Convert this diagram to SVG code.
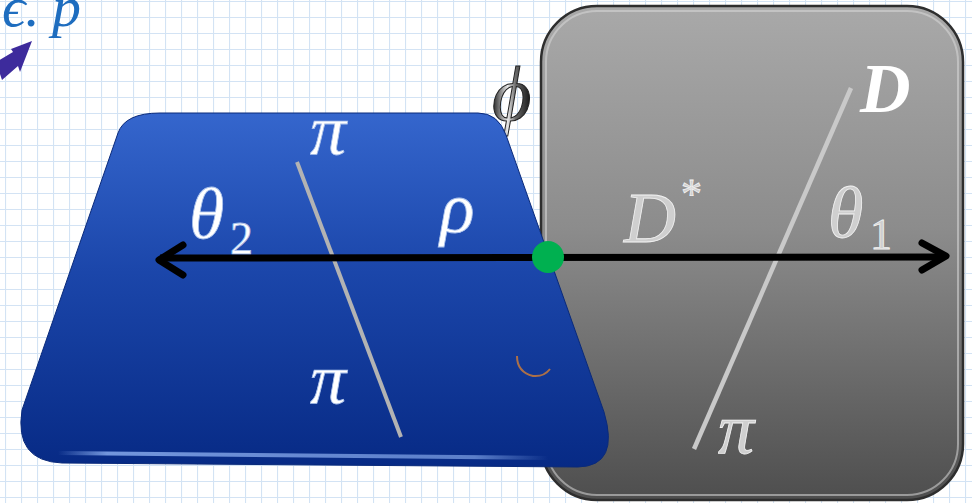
<svg xmlns="http://www.w3.org/2000/svg" width="972" height="503" viewBox="0 0 972 503">
<defs>
<pattern id="grid" x="5" y="1" width="16" height="16" patternUnits="userSpaceOnUse">
<path d="M0 0.5H16M0.5 0V16" stroke="#d3e3f4" stroke-width="1.2" fill="none"/>
</pattern>
<linearGradient id="grayG" x1="0" y1="0" x2="0" y2="1">
<stop offset="0" stop-color="#a9a9a9"/>
<stop offset="0.45" stop-color="#8c8c8c"/>
<stop offset="1" stop-color="#4e4e4e"/>
</linearGradient>
<linearGradient id="blueG" x1="0" y1="0" x2="0" y2="1">
<stop offset="0" stop-color="#3566cd"/>
<stop offset="0.45" stop-color="#1b46aa"/>
<stop offset="1" stop-color="#072a85"/>
</linearGradient>
<linearGradient id="phiG" x1="0" y1="0" x2="1" y2="0">
<stop offset="0" stop-color="#1a1a1a"/>
<stop offset="0.4" stop-color="#e8e8e8"/>
<stop offset="0.6" stop-color="#6a6a6a"/>
<stop offset="1" stop-color="#111"/>
</linearGradient>
<linearGradient id="hiG" x1="0" y1="0" x2="1" y2="0">
<stop offset="0" stop-color="#7fa2e6" stop-opacity="0"/>
<stop offset="0.1" stop-color="#7fa2e6" stop-opacity="0.9"/>
<stop offset="0.85" stop-color="#7fa2e6" stop-opacity="0.7"/>
<stop offset="1" stop-color="#7fa2e6" stop-opacity="0"/>
</linearGradient>
<style>
.m{font-family:"Liberation Serif","DejaVu Serif",serif;font-style:italic;font-size:72px}
.w{fill:#ffffff;stroke:#a9c0ea;stroke-width:0.8}
.g{fill:#cfcfcf;stroke:#f2f2f2;stroke-width:0.8}
.ln{stroke-linecap:butt;fill:none}
.ah{fill:none;stroke:#000;stroke-width:7;stroke-linecap:round;stroke-linejoin:round}
</style>
</defs>
<rect width="972" height="503" fill="#ffffff"/>
<rect width="972" height="503" fill="url(#grid)"/>

<g id="label-eps">
<text x="2" y="26" font-family="Liberation Serif,DejaVu Serif,serif" font-style="italic" font-size="58" fill="#1e6dbf">ϵ.<tspan dx="12">p</tspan></text>
</g>
<g id="purple-arrow">
<path d="M-4,62 L13,52 L11,49 L32,41 L20,72 L18,66 L2,80 Z" fill="#3d2b9c"/>
</g>

<g id="gray-box">
<rect x="541" y="6" width="422" height="494" rx="56" fill="url(#grayG)" stroke="#2e2e2e" stroke-width="2.5"/>
<rect x="546" y="11" width="412" height="484" rx="51" fill="none" stroke="#d8d8d8" stroke-opacity="0.55" stroke-width="2"/>
<line x1="851" y1="88" x2="694" y2="449" stroke="#c9c9c9" stroke-width="4.5" class="ln"/>
<text class="m g" x="624" y="242">D</text>
<text class="g" x="681" y="208" font-family="Liberation Serif,DejaVu Serif,serif" font-size="42">*</text>
<text class="m g" x="828" y="237">θ</text>
<text class="g" x="870" y="249" font-family="Liberation Serif,DejaVu Serif,serif" font-size="44">1</text>
<text x="860" y="112" font-family="Liberation Serif,DejaVu Serif,serif" font-style="italic" font-weight="bold" font-size="70" fill="#ffffff">D</text>
<text class="m g" x="718" y="453">π</text>
</g>

<g id="phi">
<text x="492" y="120" font-family="Liberation Serif,DejaVu Serif,serif" font-style="italic" font-size="76" fill="url(#phiG)" stroke="#222" stroke-width="1">ϕ</text>
</g>

<g id="blue-shape">
<path d="M160,113 L478,113 Q498,113 506,135 L604,412 Q620,466 578,467 L62,463 Q14,461 22,410 L118,133 Q125,113 160,113 Z" fill="url(#blueG)" stroke="#0a2a7a" stroke-width="1"/>
<path d="M58,453 L548,458" stroke="url(#hiG)" stroke-width="4" stroke-linecap="round"/>
<line x1="297" y1="162" x2="401" y2="437" stroke="#b3b3b3" stroke-width="4" class="ln"/>
<text class="m w" x="310" y="154">π</text>
<text class="m w" x="189" y="238">θ</text>
<text class="w" x="230" y="254" font-family="Liberation Serif,DejaVu Serif,serif" font-size="46">2</text>
<text class="m w" x="440" y="232">ρ</text>
<text class="m w" x="310" y="403">π</text>
<path d="M517,356 Q517,372 533,376 Q544,377 550,369" fill="none" stroke="#c87a3a" stroke-width="2" stroke-opacity="0.85"/>
</g>

<g id="connectors">
<line x1="160" y1="258" x2="944" y2="257" stroke="#000" stroke-width="7"/>
<path class="ah" d="M183,245 L159,260 L183,275"/>
<path class="ah" d="M922,243 L946,256 L922,270"/>
</g>

<g id="node-dot">
<circle cx="548" cy="257" r="16" fill="#00b050"/>
</g>
</svg>
